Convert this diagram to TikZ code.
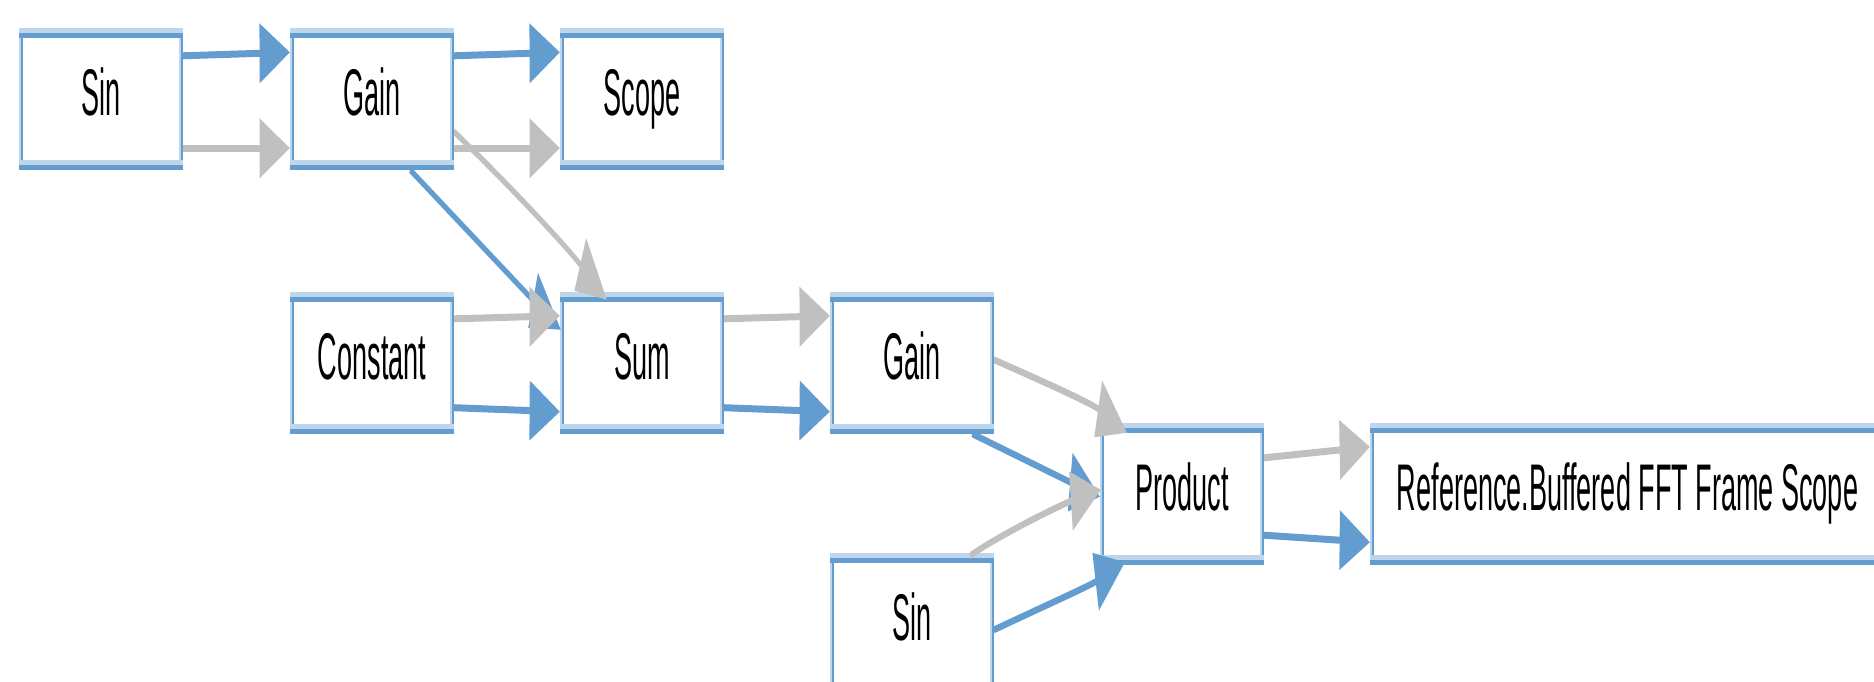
\documentclass[tikz,border=0pt]{standalone}
\usepackage{fontspec}
\newfontfamily\blockfont{Liberation Sans}
\usetikzlibrary{arrows.meta,calc}

\definecolor{linkblue}{RGB}{99,157,208}
\definecolor{bandlt}{RGB}{190,214,236}
\definecolor{linkgray}{RGB}{192,192,192}

\def\ppb{path picture bounding box}

\tikzset{
  % block with a thin blue frame and a double band on top and bottom
  blk/.style={rectangle, inner sep=0pt, minimum width=400pt, minimum height=141.5pt,
    fill=white, text height=48pt, text depth=15pt,
    font=\blockfont\fontsize{66pt}{70pt}\selectfont,
    path picture={
      \fill[bandlt] (\ppb.south west) rectangle ([xshift=4.88pt]\ppb.north west);
      \fill[linkblue] ([xshift=4.88pt]\ppb.south west) rectangle ([xshift=9.76pt]\ppb.north west);
      \fill[bandlt] ([xshift=-9.76pt]\ppb.south east) rectangle ([xshift=-4.88pt]\ppb.north east);
      \fill[linkblue] ([xshift=-4.88pt]\ppb.south east) rectangle (\ppb.north east);
      \fill[bandlt] (\ppb.north west) rectangle ([yshift=-5pt]\ppb.north east);
      \fill[linkblue] ([yshift=-5pt]\ppb.north west) rectangle ([yshift=-10pt]\ppb.north east);
      \fill[bandlt] ([yshift=10pt]\ppb.south west) rectangle ([yshift=4.5pt]\ppb.south east);
      \fill[linkblue] ([yshift=4.5pt]\ppb.south west) rectangle (\ppb.south east);
    }},
  hl/.style={line width=7pt, -{Triangle[length=74pt,width=58pt]}},
  dl/.style={line width=7pt, -{Triangle[length=74pt,width=58pt]}},
  bl/.style={draw=linkblue},
  gl/.style={draw=linkgray},
}

\begin{document}
\begin{tikzpicture}
\useasboundingbox (0,0) rectangle (1874pt,-681pt);
\clip (0,0) rectangle (1874pt,-681pt);
\begin{scope}[transform canvas={xscale=0.41}, x=2.43902pt, y=-1pt]
  % blocks
  \node[blk] (sin1)  at (101, 98.75) {Sin};
  \node[blk] (gain1) at (372, 98.75) {Gain};
  \node[blk] (scope) at (642, 98.75) {Scope};
  \node[blk] (const) at (372, 362.75) {Constant};
  \node[blk] (sum)   at (642, 362.75) {Sum};
  \node[blk] (gain2) at (912, 362.75) {Gain};
  \node[blk] (prod)  at (1182, 493.75) {Product};
  \node[blk, minimum width=1256pt] (fft) at (1627.5, 493.75) {Reference.Buffered FFT Frame Scope};
  \node[blk] (sin2)  at (912, 623.75) {Sin};

  % blue links
  \draw[hl,bl] ($(sin1.north east)+(0,28)$) -- ($(gain1.north west)+(0,24.5)$);
  \draw[hl,bl] ($(gain1.north east)+(0,28)$) -- ($(scope.north west)+(0,24.5)$);
  \draw[hl,bl] ($(const.south east)+(0,-26)$) -- ($(sum.south west)+(0,-22)$);
  \draw[hl,bl] ($(sum.south east)+(0,-26)$) -- ($(gain2.south west)+(0,-22)$);
  \draw[hl,bl] ($(prod.south east)+(0,-29.5)$) -- ($(fft.south west)+(0,-22.5)$);
  \draw[dl,bl] ($(gain1.south west)+(120,0)$) -- ($(sum.north west)+(1,38)$);
  \draw[dl,bl] ($(gain2.south west)+(142,0)$) -- ($(prod.north west)+(0,74)$);
  \draw[dl,bl] ($(sin2.north east)+(0,77)$) .. controls +(40,-19) and +(-36,24) .. ($(prod.south west)+(25,-2.5)$);

  % grey links
  \draw[hl,gl] ($(sin1.south east)+(0,-21.5)$) -- ($(gain1.south west)+(0,-21.5)$);
  \draw[hl,gl] ($(gain1.south east)+(0,-21.5)$) -- ($(scope.south west)+(0,-21.5)$);
  \draw[hl,gl] ($(const.north east)+(0,27)$) -- ($(sum.north west)+(0,24)$);
  \draw[hl,gl] ($(sum.north east)+(0,27)$) -- ($(gain2.north west)+(0,24)$);
  \draw[hl,gl] ($(prod.north east)+(0,35)$) -- ($(fft.north west)+(0,24)$);
  \draw[dl,gl] ($(gain1.north east)+(0,104)$) .. controls +(50,48) and +(-40,-53) .. ($(sum.north west)+(47,8)$);
  \draw[dl,gl] ($(gain2.north east)+(0,68)$) .. controls +(45,20) and +(-36,-30) .. ($(prod.north west)+(27,10)$);
  \draw[dl,gl] ($(sin2.north west)+(140,3)$) .. controls +(28,-20) and +(-40,15) .. ($(prod.north west)+(1,67)$);
\end{scope}
\end{tikzpicture}
\end{document}
